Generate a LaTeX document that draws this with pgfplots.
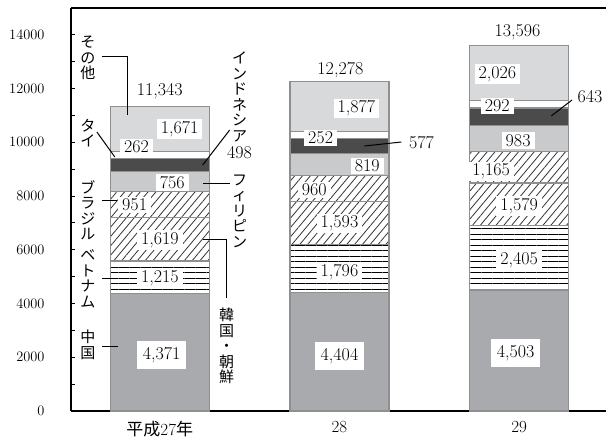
\documentclass[border=0pt]{standalone}
\usepackage{fontspec}
\usepackage{pgfplots}
\pgfplotsset{compat=1.18}
\usetikzlibrary{patterns.meta}
\newfontfamily\cjk{Noto Sans CJK JP}

\definecolor{cn}{HTML}{A9AAAD}
\definecolor{ph}{HTML}{C9CACC}
\definecolor{idn}{HTML}{4B4B4B}
\definecolor{ot}{HTML}{D8D9DB}
\definecolor{edge}{HTML}{8E8F91}

\tikzset{
  val/.style={fill=white, inner xsep=4pt, inner ysep=2pt, font=\fontsize{18}{18}\selectfont},
  big/.style={val, inner xsep=6pt, inner ysep=6.5pt},
  tot/.style={inner sep=0pt, font=\fontsize{18}{18}\selectfont},
  lead/.style={black, line width=1pt},
  jp/.style={font=\fontsize{15}{15.5}\selectfont\cjk, align=center, inner sep=0pt},
}
\pgfplotsset{frame/.style={
  scale only axis, width=535pt, height=403pt,
  xmin=-0.494, xmax=2.483, ymin=0, ymax=15000, clip=false}}

\begin{document}
\begin{tikzpicture}
\begin{axis}[
  frame,
  ybar stacked, bar width=99pt,
  axis x line*=bottom, axis y line*=left,
  axis line style={line width=1.3pt, -},
  xtick={0,1,2},
  xticklabels={{{\cjk 平成}27{\cjk 年}},28,29},
  x tick style={draw=none},
  x tick label style={font=\fontsize{17}{17}\selectfont, yshift=-7pt},
  ytick={0,2000,...,14000},
  scaled y ticks=false,
  minor y tick num=1,
  tick align=inside,
  major tick length=4pt, minor tick length=4pt,
  y tick style={line width=1pt, black},
  y tick label style={font=\fontsize{15.5}{15.5}\selectfont, xshift=-23pt},
  /pgf/number format/1000 sep={},
  every axis plot/.append style={draw=edge, line width=1.2pt},
]
% 中国
\addplot[fill=cn] coordinates {(0,4371) (1,4404) (2,4503)};
% ベトナム
\addplot[pattern={Lines[angle=0,distance=5.5pt,line width=0.9pt]}, pattern color=black] coordinates {(0,1215) (1,1796) (2,2405)};
% 韓国・朝鮮
\addplot[pattern={Lines[angle=50,distance=6pt,line width=0.8pt]}, pattern color=black!80] coordinates {(0,1619) (1,1593) (2,1579)};
% ブラジル
\addplot[pattern={Lines[angle=50,distance=6pt,line width=0.8pt]}, pattern color=black!80] coordinates {(0,951) (1,960) (2,1165)};
% フィリピン
\addplot[fill=ph] coordinates {(0,756) (1,819) (2,983)};
% インドネシア
\addplot[fill=idn] coordinates {(0,498) (1,577) (2,643)};
% タイ
\addplot[fill=white] coordinates {(0,262) (1,252) (2,292)};
% その他
\addplot[fill=ot] coordinates {(0,1671) (1,1877) (2,2026)};
\end{axis}

% labels on top of the bars
\begin{axis}[frame, hide axis]
\draw[line width=1.3pt] (rel axis cs:0,1) -- (rel axis cs:1,1);

% leader lines
\draw[lead] (axis cs:-0.322,13176) -- (axis cs:-0.178,13176) -- (axis cs:-0.178,11017);
\draw[lead] (axis cs:-0.35,10384) -- (axis cs:-0.25,9454);
\draw[lead] (axis cs:0.389,10459) -- (axis cs:0.239,9156);
\draw[lead] (axis cs:0.389,8486) -- (axis cs:0.239,8486);
\draw[lead] (axis cs:-0.322,7853) -- (axis cs:-0.239,7853);
\draw[lead] (axis cs:-0.322,4950) -- (axis cs:-0.233,4950);
\draw[lead] (axis cs:-0.322,2419) -- (axis cs:-0.233,2419);
\draw[lead] (axis cs:0.239,6365) -- (axis cs:0.372,6365) -- (axis cs:0.372,4206);
\draw[lead] (axis cs:1.139,9863) -- (axis cs:1.344,10012);
\draw[lead] (axis cs:2.178,10980) -- (axis cs:2.294,11575);

% value labels
\node[big] at (axis cs:0.01,2080) {4,371};
\node[val] at (axis cs:0,4950) {1,215};
\node[val] at (axis cs:0,6360) {1,619};
\node[val] at (axis cs:-0.14,7680) {951};
\node[val] at (axis cs:0.07,8510) {756};
\node[val] at (axis cs:-0.13,9826) {262};
\node[val] at (axis cs:0.11,10496) {1,671};
\node[tot] at (axis cs:0,11900) {11,343};

\node[big] at (axis cs:1,2047) {4,404};
\node[val] at (axis cs:1,5170) {1,796};
\node[val] at (axis cs:1,6980) {1,593};
\node[val] at (axis cs:0.86,8226) {960};
\node[val] at (axis cs:1.155,9119) {819};
\node[val] at (axis cs:0.895,10161) {252};
\node[val] at (axis cs:1.094,11259) {1,877};
\node[tot] at (axis cs:1.005,12692) {12,278};

\node[big] at (axis cs:1.98,2159) {4,503};
\node[val] at (axis cs:2,5620) {2,405};
\node[val] at (axis cs:2,7630) {1,579};
\node[val] at (axis cs:1.844,8914) {1,165};
\node[val] at (axis cs:1.994,10068) {983};
\node[val] at (axis cs:1.878,11352) {292};
\node[val] at (axis cs:1.878,12543) {2,026};
\node[tot] at (axis cs:1.99,14106) {13,596};

% outside values
\node[tot] at (axis cs:0.444,9603) {498};
\node[tot] at (axis cs:1.456,9975) {577};
\node[tot] at (axis cs:2.394,11687) {643};

% category names
\node[jp] at (axis cs:-0.4,13139) {そ\\の\\他};
\node[jp] at (axis cs:-0.4,10347) {タ\\イ};
\node[jp] at (axis cs:-0.4,7481) {ブ\\ラ\\ジ\\ル};
\node[jp] at (axis cs:-0.4,4913) {ベ\\ト\\ナ\\ム};
\node[jp] at (axis cs:-0.4,2456) {中\\国};
\node[jp] at (axis cs:0.444,11687) {イ\\ン\\ド\\ネ\\シ\\ア};
\node[jp] at (axis cs:0.444,7444) {フ\\ィ\\リ\\ピ\\ン};
\node[jp] at (axis cs:0.372,2419) {韓\\国\\・\\朝\\鮮};
\end{axis}
\pgfresetboundingbox
\path ([xshift=-71pt,yshift=-32pt]current axis.south west) rectangle ([yshift=8pt]current axis.north east);
\end{tikzpicture}
\end{document}
